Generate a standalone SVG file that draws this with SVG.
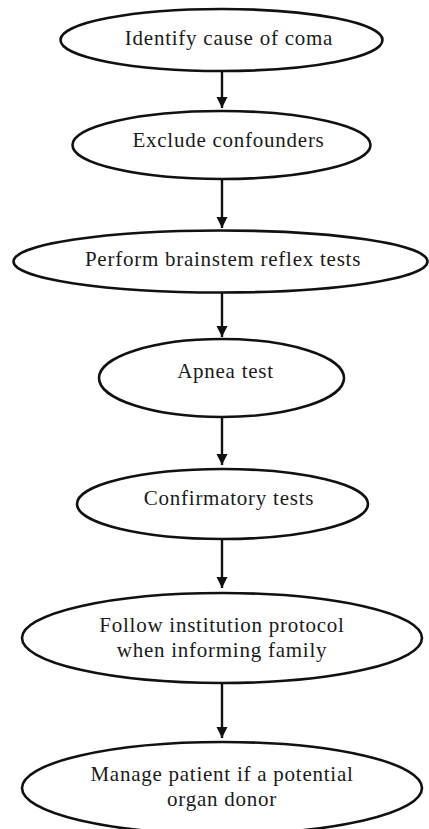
<svg xmlns="http://www.w3.org/2000/svg" width="429" height="829" viewBox="0 0 429 829">
<style>
.n ellipse{fill:#fff;stroke:#111;stroke-width:2.6}
.n text{font-family:"Liberation Serif","Times New Roman",serif;font-size:21px;letter-spacing:0.75px;fill:#1a1a1a;text-anchor:middle}
.c line{stroke:#111;stroke-width:2.4}
</style>
<defs>
<marker id="ah" markerUnits="userSpaceOnUse" markerWidth="12" markerHeight="12" refX="11" refY="5.5" orient="auto">
<path d="M0,0 L11,5.5 L0,11 z" fill="#111"/>
</marker>
</defs>
<rect width="429" height="829" fill="#fff"/>
<g class="c" id="connectors">
<line x1="222" y1="71" x2="222" y2="108" marker-end="url(#ah)"/>
<line x1="222" y1="179" x2="222" y2="228" marker-end="url(#ah)"/>
<line x1="222" y1="292" x2="222" y2="337" marker-end="url(#ah)"/>
<line x1="222" y1="417" x2="222" y2="465" marker-end="url(#ah)"/>
<line x1="222" y1="539" x2="222" y2="588" marker-end="url(#ah)"/>
<line x1="222" y1="683" x2="222" y2="738" marker-end="url(#ah)"/>
</g>
<g class="n" id="n1"><ellipse cx="221.5" cy="40" rx="161" ry="31"/><text x="229" y="45">Identify cause of coma</text></g>
<g class="n" id="n2"><ellipse cx="221.5" cy="145" rx="149" ry="34"/><text x="228.5" y="147">Exclude confounders</text></g>
<g class="n" id="n3"><ellipse cx="220.5" cy="261.5" rx="207" ry="31"/><text x="223" y="266">Perform brainstem reflex tests</text></g>
<g class="n" id="n4"><ellipse cx="221.5" cy="378" rx="122.5" ry="39"/><text x="225.5" y="378">Apnea test</text></g>
<g class="n" id="n5"><ellipse cx="222.5" cy="504" rx="145.5" ry="35"/><text x="229" y="505">Confirmatory tests</text></g>
<g class="n" id="n6"><ellipse cx="222" cy="638" rx="200" ry="45"/><text x="222" y="632">Follow institution protocol</text><text x="222" y="657">when informing family</text></g>
<g class="n" id="n7"><ellipse cx="222" cy="788" rx="200" ry="46"/><text x="222" y="781">Manage patient if a potential</text><text x="222" y="806">organ donor</text></g>
</svg>
